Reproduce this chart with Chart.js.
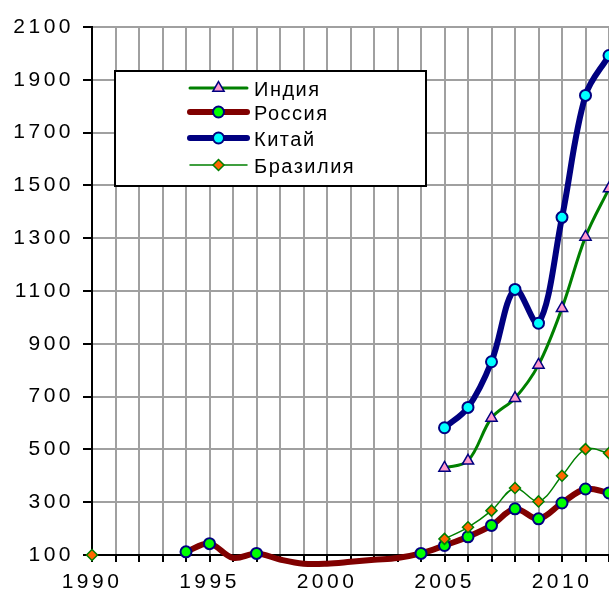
<!DOCTYPE html>
<html>
<head>
<meta charset="utf-8">
<script src="https://cdn.jsdelivr.net/npm/chart.js@4.4.1/dist/chart.umd.min.js"></script>
<style>
  html, body { margin: 0; padding: 0; background: #fff; }
  canvas { display: block; }
</style>
</head>
<body>
<canvas id="chart" width="609" height="596"></canvas>
<script>
// years on the x axis
const years = [1990, 1991, 1992, 1993, 1994, 1995, 1996, 1997, 1998, 1999, 2000, 2001,
               2002, 2003, 2004, 2005, 2006, 2007, 2008, 2009, 2010, 2011, 2012];

// values, null = no data
const india  = [null, null, null, null, null, null, null, null, null, null, null, null,
                null, null, null, 430, 457, 619, 694, 820, 1035, 1305, 1488];
const russia = [null, null, null, null, 112, 143, 89, 106, 83, 67, 67, 74,
                82, 89, 106, 136, 169, 212, 275, 237, 297, 350, 335];
const china  = [null, null, null, null, null, null, null, null, null, null, null, null,
                null, null, null, 582, 659, 832, 1106, 978, 1379, 1841, 1992];
const brazil = [100, null, null, null, null, null, null, null, null, null, null, null,
                null, null, null, 161, 205, 268, 354, 303, 400, 501, 486];

// Russia years that are on the line but have no marker
const russiaNoMarker = [1996, 1998, 1999, 2000, 2001, 2002, 2003];

const seriesNames = ["Индия", "Россия", "Китай", "Бразилия"];

const yMin = 100;
const yMax = 2100;
const yStep = 200;
const xLabelEvery = 5;

const FONT = '"Liberation Sans", Arial, sans-serif';

function toPoints(values) {
    return years.map((x, i) => ({ x: x, y: values[i] }));
}

const markerRadius = [6.5, 5.5, 5.5, 5.5];

const datasets = [
    {
        label: seriesNames[0],
        data: toPoints(india),
        borderColor: "#008000",
        borderWidth: 3,
        pointStyle: "triangle",
        pointRadius: markerRadius[0],
        pointBackgroundColor: "#ff99cc",
        pointBorderColor: "#000080",
        pointBorderWidth: 1.5,
        order: 3
    },
    {
        label: seriesNames[1],
        data: toPoints(russia),
        borderColor: "#800000",
        borderWidth: 6,
        pointStyle: "circle",
        pointRadius: (c) => russiaNoMarker.includes(years[c.dataIndex]) ? 0 : markerRadius[1],
        pointBackgroundColor: "#00ff00",
        pointBorderColor: "#000080",
        pointBorderWidth: 2,
        order: 2
    },
    {
        label: seriesNames[2],
        data: toPoints(china),
        borderColor: "#000080",
        borderWidth: 6,
        pointStyle: "circle",
        pointRadius: markerRadius[2],
        pointBackgroundColor: "#00ffff",
        pointBorderColor: "#000080",
        pointBorderWidth: 2,
        order: 1
    },
    {
        label: seriesNames[3],
        data: toPoints(brazil),
        borderColor: "#008000",
        borderWidth: 1.5,
        pointStyle: "rectRot",
        pointRadius: markerRadius[3],
        pointBackgroundColor: "#ff6600",
        pointBorderColor: "#008000",
        pointBorderWidth: 1.5,
        order: 0
    }
];

datasets.forEach(ds => {
    ds.tension = 0.35;
    ds.clip = false;
    ds.fill = false;
    ds.spanGaps = false;
    ds.borderCapStyle = "round";
    ds.borderJoinStyle = "round";
});

// spaced-out axis text, like the original
const textSpacing = {
    id: "textSpacing",
    beforeDraw(chart) {
        chart.ctx.letterSpacing = "3.5px";
    },
    beforeDatasetsDraw(chart) {
        chart.ctx.letterSpacing = "0px";
    }
};

// legend box inside the plot
const legendBox = {
    id: "legendBox",
    afterDraw(chart) {
        const ctx = chart.ctx;
        const rows = [88, 112, 138, 165];
        ctx.save();
        ctx.fillStyle = "#fff";
        ctx.fillRect(115, 71, 311, 115);
        ctx.lineWidth = 2;
        ctx.strokeStyle = "#000";
        ctx.strokeRect(115, 71, 311, 115);

        chart.data.datasets.forEach((ds, i) => {
            const y = rows[i];
            ctx.strokeStyle = ds.borderColor;
            ctx.lineWidth = ds.borderWidth;
            ctx.lineCap = "round";
            ctx.beginPath();
            ctx.moveTo(190, y);
            ctx.lineTo(247, y);
            ctx.stroke();

            ctx.fillStyle = ds.pointBackgroundColor;
            ctx.strokeStyle = ds.pointBorderColor;
            ctx.lineWidth = ds.pointBorderWidth;
            Chart.helpers.drawPoint(ctx, {
                pointStyle: ds.pointStyle,
                radius: markerRadius[i],
                borderWidth: ds.pointBorderWidth,
                rotation: 0
            }, 218.5, y);

            ctx.letterSpacing = "1.5px";
            ctx.font = "20px " + FONT;
            ctx.fillStyle = "#000";
            ctx.textAlign = "left";
            ctx.textBaseline = "alphabetic";
            ctx.fillText(ds.label, 254, y + 7.5);
        });
        ctx.restore();
    }
};

new Chart(document.getElementById("chart"), {
    type: "line",
    data: { datasets: datasets },
    plugins: [textSpacing, legendBox],
    options: {
        responsive: false,
        animation: false,
        devicePixelRatio: 1,
        layout: { autoPadding: false, padding: { top: 27, left: 0, right: 0, bottom: 0 } },
        plugins: {
            legend: { display: false },
            tooltip: { enabled: false }
        },
        scales: {
            x: {
                type: "linear",
                min: years[0],
                max: years[years.length - 1],
                afterFit: (s) => {
                    s.height = 41;
                    s.paddingLeft = 0;
                    s.paddingRight = 0;
                },
                grid: {
                    color: "#a0a0a0",
                    lineWidth: 2,
                    drawTicks: true,
                    tickLength: 7,
                    tickColor: "#000",
                    tickWidth: 2
                },
                border: { color: "#000", width: 2 },
                ticks: {
                    stepSize: 1,
                    autoSkip: false,
                    maxRotation: 0,
                    includeBounds: false,
                    padding: 8,
                    color: "#000",
                    font: { family: FONT, size: 21 },
                    callback: (v) => v % xLabelEvery === 0 ? String(v) : ""
                }
            },
            y: {
                min: yMin,
                max: yMax,
                afterFit: (s) => { s.width = 92; },
                grid: {
                    color: "#a0a0a0",
                    lineWidth: 2,
                    drawTicks: true,
                    tickLength: 9,
                    tickColor: "#000",
                    tickWidth: 2
                },
                border: { color: "#000", width: 2 },
                ticks: {
                    stepSize: yStep,
                    padding: 9,
                    color: "#000",
                    font: { family: FONT, size: 21 },
                    callback: (v) => String(v)
                }
            }
        }
    }
});
</script>
</body>
</html>
